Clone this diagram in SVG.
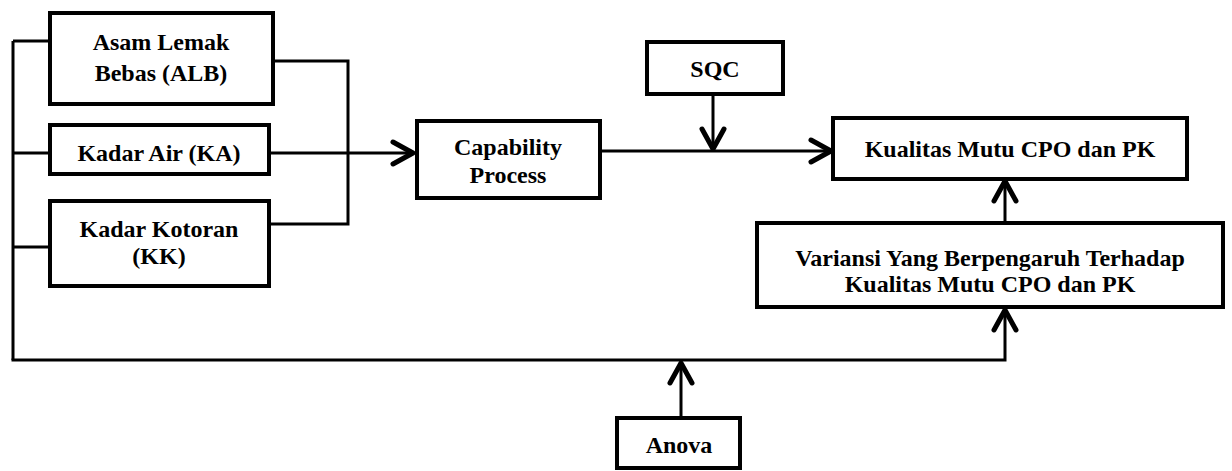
<svg xmlns="http://www.w3.org/2000/svg" width="1232" height="471" viewBox="0 0 1232 471">
<defs>
<style>
.box{fill:#fff;stroke:#000;stroke-width:4}
.t{font-family:'Liberation Serif','DejaVu Serif',serif;font-weight:700;font-size:24px;text-anchor:middle;fill:#000}
.c{fill:none;stroke:#000;stroke-width:3;stroke-linejoin:miter}
</style>
<marker id="ah" markerUnits="userSpaceOnUse" viewBox="-30 -16 34 32" refX="0" refY="0" markerWidth="34" markerHeight="32" orient="auto">
<path d="M-20 -11 L0 0 L-20 11" fill="none" stroke="#000" stroke-width="5" stroke-linecap="round" stroke-linejoin="round"/>
</marker>
</defs>
<rect width="1232" height="471" fill="#fff"/>
<g id="connectors">
<path class="c" d="M13 41 V360"/>
<path class="c" d="M13 41 H50 M13 153 H50 M13 247 H50"/>
<path class="c" d="M273 61 H348 V224 H269"/>
<path class="c" d="M269 153 H413" stroke-width="6" marker-end="url(#ah)"/>
<path class="c" d="M600 151 H831" stroke-width="4" marker-end="url(#ah)"/>
<path class="c" d="M713 94 V149" stroke-width="4" marker-end="url(#ah)"/>
<path class="c" d="M1005 223 V181" stroke-width="4" marker-end="url(#ah)"/>
<path class="c" d="M11.5 360 H1005 V310" stroke-width="5" marker-end="url(#ah)"/>
<path class="c" d="M681 418 V363" stroke-width="4" marker-end="url(#ah)"/>
</g>
<g id="alb">
<rect class="box" x="50" y="13" width="223" height="91"/>
<text class="t" x="161" y="50">Asam Lemak</text>
<text class="t" x="161" y="81">Bebas (ALB)</text>
</g>
<g id="ka">
<rect class="box" x="50" y="125" width="219" height="49"/>
<text class="t" x="159" y="161">Kadar Air (KA)</text>
</g>
<g id="kk">
<rect class="box" x="50" y="201" width="219" height="85"/>
<text class="t" x="159" y="237">Kadar Kotoran</text>
<text class="t" x="159" y="264">(KK)</text>
</g>
<g id="capability">
<rect class="box" x="417" y="121" width="183" height="77"/>
<text class="t" x="508" y="155">Capability</text>
<text class="t" x="508" y="183">Process</text>
</g>
<g id="sqc">
<rect class="box" x="647" y="42" width="136" height="52"/>
<text class="t" x="715" y="77">SQC</text>
</g>
<g id="kualitas">
<rect class="box" x="833" y="118" width="354" height="61"/>
<text class="t" x="1010" y="157">Kualitas Mutu CPO dan PK</text>
</g>
<g id="variansi">
<rect class="box" x="757" y="223" width="466" height="84"/>
<text class="t" x="990" y="266">Variansi Yang Berpengaruh Terhadap</text>
<text class="t" x="990" y="292">Kualitas Mutu CPO dan PK</text>
</g>
<g id="anova">
<rect class="box" x="617" y="418" width="123" height="50"/>
<text class="t" x="679" y="453">Anova</text>
</g>
</svg>
